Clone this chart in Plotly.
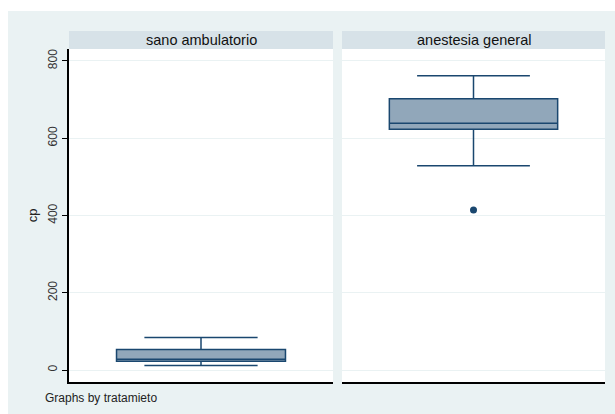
import plotly.graph_objects as go

# Data
groups = ["sano ambulatorio", "anestesia general"]
lower_whisker = [12, 529]
q1_vals = [23, 623]
median_vals = [28, 639]
q3_vals = [53, 702]
upper_whisker = [84, 762]
outliers = [[], [414]]
y_ticks = [0, 200, 400, 600, 800]

W, H = 615, 414
NAVY = "#1A476F"
FILL = "rgba(26,71,111,0.48)"
BG = "#EAF2F3"
STRIP = "#D7E2E8"

px = lambda v: v / W
py = lambda v: 1 - v / H

panels = [(69, 333), (342, 605)]
ytop, ybot = 49, 382

fig = go.Figure()
for i, g in enumerate(groups):
    xa = "x" if i == 0 else "x2"
    fig.add_trace(go.Box(
        x=[0], q1=[q1_vals[i]], median=[median_vals[i]], q3=[q3_vals[i]],
        lowerfence=[lower_whisker[i]], upperfence=[upper_whisker[i]],
        width=0.64, whiskerwidth=0.67, fillcolor=FILL,
        line=dict(color=NAVY, width=1.5), boxpoints=False,
        xaxis=xa, yaxis="y" if i == 0 else "y2", showlegend=False, name=g,
        hoverinfo="skip"))
    if outliers[i]:
        fig.add_trace(go.Scatter(
            x=[0] * len(outliers[i]), y=outliers[i], mode="markers",
            marker=dict(color=NAVY, size=7),
            xaxis=xa, yaxis="y" if i == 0 else "y2", showlegend=False))

yrange = [-31, 831]
common_y = dict(range=yrange, tickvals=y_ticks, showgrid=True, gridcolor=BG,
                gridwidth=1, zeroline=False, domain=[py(ybot), py(ytop)],
                automargin=False)
common_x = dict(range=[-0.5, 0.5], showticklabels=False, showgrid=False,
                zeroline=False, showline=True, linecolor="black", linewidth=1.5,
                ticks="", automargin=False)

fig.update_layout(
    width=W, height=H, margin=dict(l=0, r=0, t=0, b=0),
    paper_bgcolor="white", plot_bgcolor="white",
    font=dict(family="Liberation Sans, Arial, sans-serif", color="#222"),
    xaxis=dict(domain=[px(panels[0][0]), px(panels[0][1])], anchor="y", **common_x),
    xaxis2=dict(domain=[px(panels[1][0]), px(panels[1][1])], anchor="y2", **common_x),
    yaxis=dict(anchor="x", showline=True, linecolor="black", linewidth=1.5,
               ticks="outside", ticklen=5, tickcolor="black", tickangle=-90,
               tickfont=dict(size=12, color="#333"),
               title=dict(text="cp", font=dict(size=13, color="#222"), standoff=6),
               **common_y),
    yaxis2=dict(anchor="x2", showline=False, showticklabels=False, ticks="",
                matches="y", **common_y),
)

shapes = [dict(type="rect", xref="paper", yref="paper", x0=px(8), x1=1,
               y0=0, y1=py(11), fillcolor=BG, line=dict(width=0), layer="below")]
for i, (x0, x1) in enumerate(panels):
    shapes.append(dict(type="rect", xref="paper", yref="paper", x0=px(x0), x1=px(x1),
                       y0=py(ybot), y1=py(ytop), fillcolor="white", line=dict(width=0),
                       layer="below"))
    shapes.append(dict(type="rect", xref="paper", yref="paper", x0=px(x0), x1=px(x1),
                       y0=py(ytop), y1=py(31), fillcolor=STRIP, line=dict(width=0),
                       layer="below"))
    fig.add_annotation(x=(px(x0) + px(x1)) / 2, y=(py(ytop) + py(31)) / 2,
                       xref="paper", yref="paper", text=groups[i], showarrow=False,
                       font=dict(size=14.5, color="#111"), xanchor="center", yanchor="middle")
fig.update_layout(shapes=shapes)

fig.add_annotation(x=px(43), y=py(398), xref="paper", yref="paper",
                   text="Graphs by tratamieto", showarrow=False,
                   font=dict(size=12, color="#222"), xanchor="left", yanchor="middle")

fig.write_html("out.html", config={"displayModeBar": False},
               post_script="document.body.style.margin='0';")
